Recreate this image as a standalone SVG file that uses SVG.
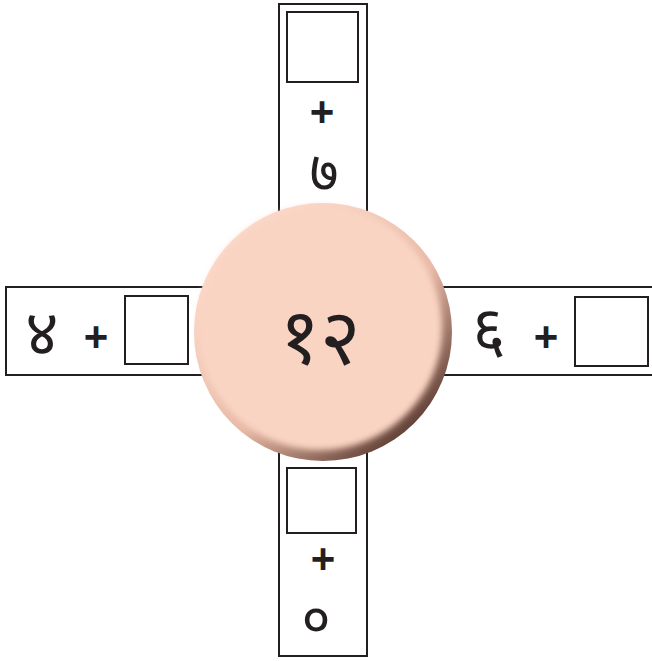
<svg xmlns="http://www.w3.org/2000/svg" width="652" height="661" viewBox="0 0 652 661">
<defs>
<style>
.arm{fill:#fff;stroke:#231f20;stroke-width:2}
.box{fill:#fff;stroke:#231f20;stroke-width:2}
.dig{font-family:"Noto Sans","Noto Sans Devanagari","Lohit Devanagari",sans-serif;fill:#231f20;text-anchor:middle}
.plus{font-family:"Liberation Sans",Arial,sans-serif;font-weight:bold;fill:#231f20;text-anchor:middle;font-size:42px}
</style>
<linearGradient id="edge" x1="0.2" y1="0.15" x2="0.85" y2="0.9">
<stop offset="0" stop-color="#fbd9ca"/>
<stop offset="0.55" stop-color="#e8b9a6"/>
<stop offset="1" stop-color="#5a3a30"/>
</linearGradient>
<filter id="blur" x="-10%" y="-10%" width="120%" height="120%">
<feGaussianBlur stdDeviation="3"/>
</filter>
</defs>
<g id="top-arm">
<rect class="arm" x="279" y="4" width="88" height="210"/>
<rect class="box" x="287" y="12" width="71" height="70"/>
<text class="plus" x="322" y="126">+</text>
<text class="dig" x="324" y="191" font-size="56">७</text>
</g>
<g id="bottom-arm">
<rect class="arm" x="279" y="450" width="88" height="206"/>
<rect class="box" x="287" y="468" width="69" height="65"/>
<text class="plus" x="323" y="573">+</text>
<text class="dig" x="316" y="638" font-size="56">०</text>
</g>
<g id="left-arm">
<rect class="arm" x="6" y="287" width="200" height="88"/>
<rect class="box" x="125" y="296" width="63" height="68"/>
<text class="plus" x="96" y="351">+</text>
<text class="dig" x="42" y="355" font-size="64">४</text>
</g>
<g id="right-arm">
<rect class="arm" x="440" y="287" width="216" height="88"/>
<rect class="box" x="575" y="297" width="73" height="69"/>
<text class="plus" x="546" y="351">+</text>
<text class="dig" x="489" y="352" font-size="64">६</text>
</g>
<g id="center">
<circle cx="323" cy="332" r="129" fill="url(#edge)"/>
<circle cx="320" cy="328" r="122" fill="#fad4c3" filter="url(#blur)"/>
<text class="dig" x="320" y="364" font-size="78">१२</text>
</g>
</svg>
